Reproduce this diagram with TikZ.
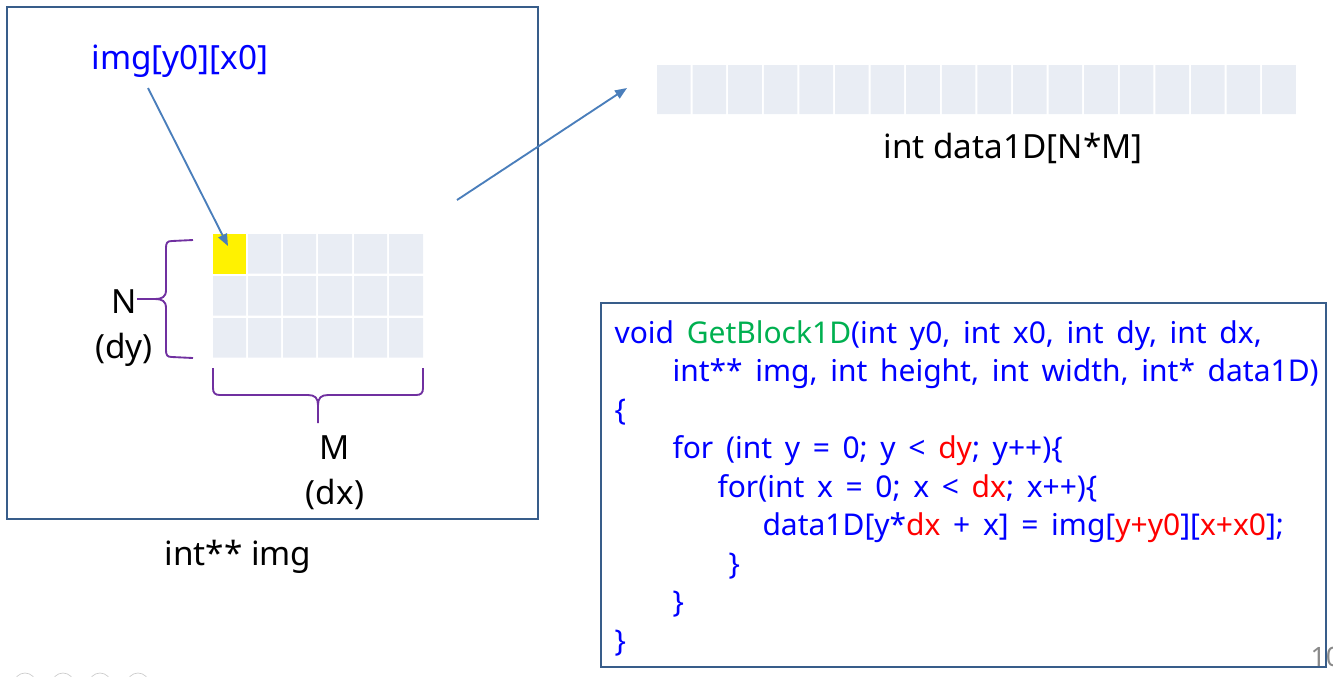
\documentclass[tikz,border=0pt]{standalone}
\usepackage{fontspec}
\setmainfont{Noto Sans}
\usetikzlibrary{arrows.meta}

\definecolor{boxblue}{RGB}{56,93,138}
\definecolor{ptrblue}{RGB}{74,126,187}
\definecolor{bracepurple}{RGB}{112,48,160}
\definecolor{cellgray}{RGB}{233,237,244}
\definecolor{codeblue}{RGB}{0,0,255}
\definecolor{codegreen}{RGB}{0,176,80}
\definecolor{codered}{RGB}{255,0,0}
\definecolor{pagegray}{RGB}{137,137,137}

\newcommand{\codefont}{\fontsize{22.5}{27}\selectfont\spaceskip 9.5pt\relax}
\newcommand{\rd}[1]{\textcolor{codered}{#1}}

\tikzset{every picture/.style={line width=0.75pt}}
\tikzset{
  lbl/.style={inner sep=0.75pt, font=\fontsize{25}{30}\selectfont},
  codeln/.style={anchor=base west, inner sep=0pt, text=codeblue, font=\codefont},
  ptr/.style={draw=ptrblue, line width=1.4pt, -{Triangle[length=9pt,width=7pt]}},
  brc/.style={draw=bracepurple, line width=1.4pt},
}

\begin{document}
\begin{tikzpicture}[x=0.75pt,y=0.75pt,yscale=-1,xscale=1]
\useasboundingbox (0,0) rectangle (1333,676);

%Shape: Rectangle [id:img box]
\draw [color=boxblue, line width=2.2pt] (7,7) rectangle (538,519) ;
%Shape: Rectangle [id:code box]
\draw [color=boxblue, line width=1.6pt] (601,303) rectangle (1326,667) ;

%Shape: 2D block cells
\fill [yellow] (213,234) rectangle (246,273.5) ;
\fill [cellgray] (248,234) rectangle (281,273.5) (283,234) rectangle (316,273.5) (318,234) rectangle (352,273.5) (354,234) rectangle (387,273.5) (389,234) rectangle (423,273.5) ;
\fill [cellgray] (213,276) rectangle (246,315.5) (248,276) rectangle (281,315.5) (283,276) rectangle (316,315.5) (318,276) rectangle (352,315.5) (354,276) rectangle (387,315.5) (389,276) rectangle (423,315.5) ;
\fill [cellgray] (213,318) rectangle (246,357.5) (248,318) rectangle (281,357.5) (283,318) rectangle (316,357.5) (318,318) rectangle (352,357.5) (354,318) rectangle (387,357.5) (389,318) rectangle (423,357.5) ;

%Shape: 1D array cells
\fill [cellgray] (657,65) rectangle (690.6,114) (692.6,65) rectangle (726.2,114) (728.2,65) rectangle (761.8,114) (763.8,65) rectangle (797.4,114) (799.4,65) rectangle (833,114) (835,65) rectangle (868.6,114) ;
\fill [cellgray] (870.6,65) rectangle (904.2,114) (906.2,65) rectangle (939.8,114) (941.8,65) rectangle (975.4,114) (977.4,65) rectangle (1011,114) (1013,65) rectangle (1046.6,114) (1048.6,65) rectangle (1082.2,114) ;
\fill [cellgray] (1084.2,65) rectangle (1117.8,114) (1119.8,65) rectangle (1153.4,114) (1155.4,65) rectangle (1189,114) (1191,65) rectangle (1224.6,114) (1226.6,65) rectangle (1260.2,114) (1262.2,65) rectangle (1295.8,114) ;

%Shape: Left Brace
\draw [brc] (193,240) -- (172,241) .. controls (167,241) and (166,243) .. (166,248) -- (166,290) .. controls (166,297) and (162,299) .. (155,299) -- (137,299) -- (155,299) .. controls (162,299) and (166,301) .. (166,308) -- (166,350) .. controls (166,355) and (167,357) .. (172,357) -- (193,358) ;
%Shape: Bottom Brace
\draw [brc] (213,368) -- (213,388) .. controls (213,393) and (215,395) .. (220,395) -- (308,395) .. controls (315,395) and (318,398) .. (318,405) -- (318,423) -- (318,405) .. controls (318,398) and (321,395) .. (328,395) -- (416,395) .. controls (421,395) and (423,393) .. (423,388) -- (423,368) ;

%Arrows
\coordinate (ptrA) at (148,88) ;
\coordinate (tipA) at (228,246) ;
\coordinate (ptrB) at (457,200) ;
\coordinate (tipB) at (627,88) ;
\draw [ptr] (ptrA) -- (tipA) ;
\draw [ptr] (ptrB) -- (tipB) ;

%Labels
\draw (180,69) node [anchor=base][lbl, text=codeblue] (imglbl) {img[y0][x0]};
\draw (124,313) node [anchor=base][lbl] (nlbl) {N};
\draw (124,358) node [anchor=base][lbl] (dylbl) {(dy)};
\draw (335,459) node [anchor=base][lbl] (mlbl) {M};
\draw (335,504) node [anchor=base][lbl] (dxlbl) {(dx)};
\draw (238,565) node [anchor=base][lbl] (imglbl2) {int** img};
\draw (1013,158) node [anchor=base][lbl] (arrlbl) {int data1D[N*M]};

%Code
\draw (614,343) node [codeln] (ln1) {void \textcolor{codegreen}{GetBlock1D}(int y0, int x0, int dy, int dx,};
\draw (672,381.5) node [codeln] (ln2) {int** img, int height, int width, int* data1D)};
\draw (614,420) node [codeln] (ln3) {\{};
\draw (672,458.5) node [codeln] (ln4) {for (int y = 0; y < \rd{dy}; y++)\{};
\draw (717,497) node [codeln] (ln5) {for(int x = 0; x < \rd{dx}; x++)\{};
\draw (762,535.5) node [codeln] (ln6) {data1D[y*\rd{dx} + x] = img[\rd{y+y0}][\rd{x+x0}];};
\draw (728,574) node [codeln] (ln7) {\}};
\draw (672,612.5) node [codeln] (ln8) {\}};
\draw (614,651) node [codeln] (ln9) {\}};

%Slide leftovers, cut by the page edge
\begin{scope}
\clip (0,0) rectangle (1333,676) ;
\draw [color=black!20, line width=0.5pt] (25,684) circle (11) (63,684) circle (11) (100,684) circle (11) (138,684) circle (11) ;
\draw (1310,666) node [anchor=base west][inner sep=0pt, text=pagegray, font=\fontsize{20}{24}\selectfont] (pgno) {10};
\end{scope}

\end{tikzpicture}
\end{document}
